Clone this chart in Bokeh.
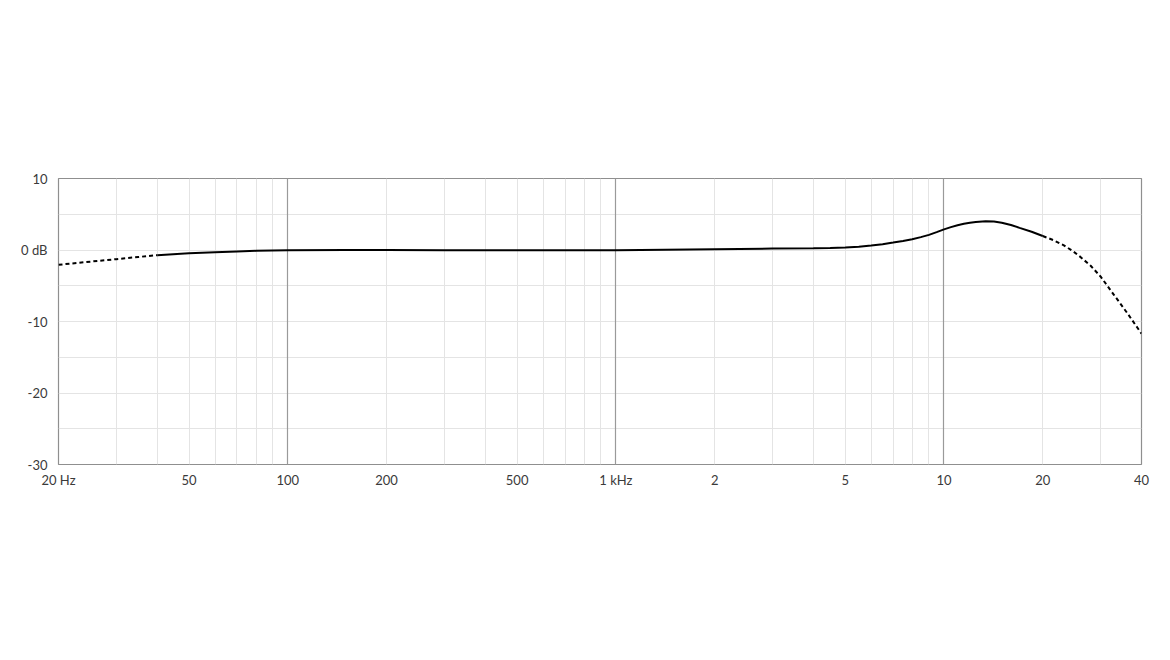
import numpy as np

from bokeh.plotting import figure
from bokeh.models import FixedTicker, Grid
from bokeh.embed import file_html
from bokeh.resources import INLINE

# Frequency response
# low end (dashed)
freq_lo = [20, 25, 30, 35, 40]
db_lo = [-2.07, -1.63, -1.28, -0.98, -0.72]

# measured range (solid)
freq_mid = [40, 50, 60, 70, 80, 100, 150, 200, 300, 500, 1000, 2000, 3000,
            4000, 4500, 5000, 5500, 6000, 6500, 7000, 7500, 8000, 8500, 9000,
            9500, 10000, 10500, 11000, 11500, 12000, 12500, 13400, 14200,
            15000, 16000, 17000, 18500, 20000]
db_mid = [-0.72, -0.45, -0.3, -0.2, -0.12, -0.05, 0.0, 0.0, -0.02, -0.05,
          -0.05, 0.12, 0.2, 0.26, 0.29, 0.34, 0.45, 0.62, 0.82, 1.05, 1.27,
          1.5, 1.8, 2.12, 2.5, 2.88, 3.2, 3.47, 3.67, 3.82, 3.92, 4.02, 3.98,
          3.82, 3.5, 3.1, 2.55, 1.95]

# high end (dashed)
freq_hi = [20000, 21500, 23200, 24700, 26100, 28000, 30000, 33000, 36300, 40000]
db_hi = [1.95, 1.4, 0.65, -0.15, -1.0, -2.2, -3.7, -6.3, -8.9, -11.7]

# axis ticks
x_ticks = [20, 50, 100, 200, 500, 1000, 2000, 5000, 10000, 20000, 40000]
x_labels = ["20 Hz", "50", "100", "200", "500", "1 kHz", "2", "5", "10", "20", "40"]
y_ticks = [-30, -20, -10, 0, 10]
y_labels = ["-30", "-20", "-10", "0 dB", "10"]

minor_x = [m * 10 ** d for d in range(1, 5) for m in range(1, 10)]
minor_x = [f for f in minor_x if 20 <= f <= 40000 and f not in (100, 1000, 10000)]
decades = [100, 1000, 10000]

p = figure(width=1162, height=655, x_axis_type="log",
           x_range=(20, 40000), y_range=(-30, 10),
           output_backend="svg", toolbar_location=None,
           min_border_left=58, min_border_right=21,
           min_border_top=178, min_border_bottom=191)

p.outline_line_color = "#8f8f8f"
p.outline_line_width = 1.2
p.background_fill_color = "white"
p.border_fill_color = "white"

# light grid
p.xgrid.ticker = FixedTicker(ticks=minor_x)
p.xgrid.grid_line_color = "#e4e4e4"
p.xgrid.grid_line_width = 1
p.ygrid.ticker = FixedTicker(ticks=[-25, -20, -15, -10, -5, 0, 5])
p.ygrid.grid_line_color = "#e4e4e4"
p.ygrid.grid_line_width = 1

# darker decade lines
dec_grid = Grid(dimension=0, ticker=FixedTicker(ticks=decades),
                grid_line_color="#9a9a9a", grid_line_width=1.2)
p.add_layout(dec_grid)

for ax in (p.xaxis, p.yaxis):
    ax.axis_line_color = None
    ax.major_tick_line_color = None
    ax.minor_tick_line_color = None
    ax.major_label_text_font = "Lato"
    ax.major_label_text_font_size = "13px"
    ax.major_label_text_color = "#3a3a3a"

p.xaxis.ticker = FixedTicker(ticks=x_ticks)
p.xaxis.major_label_overrides = {t: l for t, l in zip(x_ticks, x_labels)}
p.xaxis.major_label_standoff = 1
p.yaxis.ticker = FixedTicker(ticks=y_ticks)
p.yaxis.major_label_overrides = {t: l for t, l in zip(y_ticks, y_labels)}
p.yaxis.major_label_standoff = 5

p.line(freq_lo, db_lo, line_color="black", line_width=2, line_dash="4 3")
p.line(freq_mid, db_mid, line_color="black", line_width=2)
p.line(freq_hi, db_hi, line_color="black", line_width=2, line_dash="4 3")

open("out.html", "w").write(file_html(p, INLINE))
